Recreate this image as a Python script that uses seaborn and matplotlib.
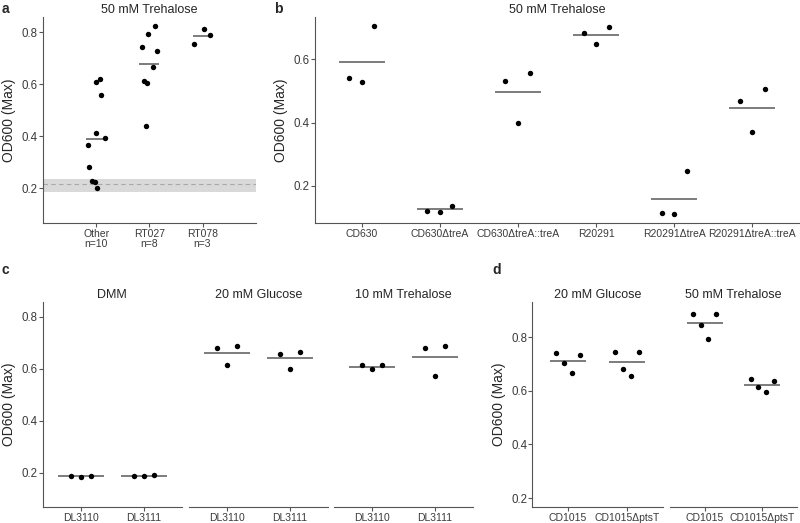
import numpy as np
import pandas as pd
import matplotlib
matplotlib.use('Agg')
from matplotlib import pyplot as plt
import seaborn as sns

# a: clinical isolates grown on 50 mM trehalose
a_groups = ['Other'] * 10 + ['RT027'] * 8 + ['RT078'] * 3
a_od = [0.282, 0.558, 0.223, 0.619, 0.393, 0.199, 0.610, 0.367, 0.228, 0.413,
        0.667, 0.823, 0.603, 0.742, 0.440, 0.727, 0.613, 0.791,
        0.787, 0.755, 0.813]
a_band = [0.186, 0.237]   # background range (grey band)
a_band_mid = 0.215

# b: treA mutants, 50 mM trehalose (3 replicates, left to right)
b_strains = ['CD630', 'CD630ΔtreA', 'CD630ΔtreA::treA',
             'R20291', 'R20291ΔtreA', 'R20291ΔtreA::treA']
b_od = [[0.540, 0.528, 0.707],
        [0.122, 0.119, 0.136],
        [0.532, 0.399, 0.556],
        [0.685, 0.648, 0.702],
        [0.116, 0.113, 0.246],
        [0.468, 0.370, 0.505]]

# c: DL3110 / DL3111 on three media
c_media = ['DMM', '20 mM Glucose', '10 mM Trehalose']
c_strains = ['DL3110', 'DL3111']
c_od = [[[0.187, 0.183, 0.188], [0.186, 0.185, 0.192]],
        [[0.678, 0.613, 0.686], [0.655, 0.599, 0.664]],
        [[0.613, 0.598, 0.614], [0.678, 0.573, 0.686]]]

# d: ptsT mutant
d_media = ['20 mM Glucose', '50 mM Trehalose']
d_strains = ['CD1015', 'CD1015ΔptsT']
d_od = [[[0.741, 0.703, 0.665, 0.732], [0.745, 0.680, 0.655, 0.743]],
        [[0.886, 0.844, 0.792, 0.886], [0.645, 0.614, 0.596, 0.637]]]

sns.set_style('ticks')
plt.rcParams.update({
    'font.family': ['Liberation Sans', 'DejaVu Sans'],
    'axes.edgecolor': '#555555',
    'axes.linewidth': 0.8,
    'xtick.color': '#555555', 'ytick.color': '#555555',
    'xtick.labelcolor': '#3a3a3a', 'ytick.labelcolor': '#3a3a3a',
    'xtick.major.size': 2.6, 'ytick.major.size': 2.6,
    'xtick.major.width': 0.8, 'ytick.major.width': 0.8,
    'xtick.major.pad': 1.5, 'ytick.major.pad': 1.0,
    'xtick.labelsize': 7.5, 'ytick.labelsize': 8.3,
    'axes.labelsize': 10, 'axes.titlesize': 9,
})

W, H = 800, 523
LINE_COL = '#666666'
DOT = 3.9
fig = plt.figure(figsize=(W / 100, H / 100), dpi=100)


def px_axes(x0, x1, y0, y1):
    return fig.add_axes([x0 / W, 1 - y1 / H, (x1 - x0) / W, (y1 - y0) / H])


def tidy(df_rows):
    return pd.DataFrame(df_rows, columns=['strain', 'rep', 'od'])


def draw(ax, df, order, n_slots, bar_pt):
    # replicates spread evenly via dodge, padded with empty hue slots
    reps = list(dict.fromkeys(df['rep']))
    pad = n_slots - len(reps)
    hue_order = ['padL%d' % i for i in range(pad // 2)] + reps + \
                ['padR%d' % i for i in range(pad - pad // 2)]
    sns.stripplot(data=df, x='strain', y='od', hue='rep', order=order,
                  hue_order=hue_order, dodge=True, jitter=False,
                  palette={h: 'black' for h in hue_order}, size=DOT,
                  linewidth=0, legend=False, ax=ax, zorder=3)
    sns.pointplot(data=df, x='strain', y='od', order=order, estimator='mean',
                  errorbar=None, color=LINE_COL, markers='_',
                  markersize=bar_pt, markeredgewidth=1.2, linestyle='none',
                  ax=ax, zorder=2)
    ax.set_xlabel('')
    ax.set_ylabel('')
    sns.despine(ax=ax)


# ---- panel a
ax = px_axes(43, 255.7, 17, 223)
dfa = pd.DataFrame({'group': a_groups, 'od': a_od})
a_order = list(dict.fromkeys(a_groups))
ax.axhspan(a_band[0], a_band[1], color='#d9d9d9', lw=0, zorder=0)
ax.axhline(a_band_mid, color='#a8a8a8', lw=0.8, dashes=(4, 3), zorder=1)
np.random.seed(7)
sns.stripplot(data=dfa, x='group', y='od', order=a_order, jitter=0.17,
              color='black', size=DOT, linewidth=0, ax=ax, zorder=3)
sns.pointplot(data=dfa, x='group', y='od', order=a_order, estimator='mean',
              errorbar=None, color=LINE_COL, markers='_', markersize=15,
              markeredgewidth=1.2, linestyle='none', ax=ax, zorder=2)
counts = dfa['group'].value_counts()
ax.set_xticks(range(len(a_order)))
ax.set_xticklabels(['%s\nn=%d' % (g, counts[g]) for g in a_order],
                   linespacing=1.0)
ax.set_xlim(-1, 3)
ax.set_ylim(0.066, 0.858)
ax.set_yticks([0.2, 0.4, 0.6, 0.8])
ax.set_xlabel('')
ax.set_ylabel('OD600 (Max)')
ax.yaxis.set_label_coords(-26.7 / 212.7, 0.5)
ax.set_title('50 mM Trehalose', pad=3)
sns.despine(ax=ax)

# ---- panel b
ax = px_axes(315, 799, 16.7, 223)
rows = [(s, 'r%d' % i, v) for s, vals in zip(b_strains, b_od)
        for i, v in enumerate(vals)]
draw(ax, tidy(rows), b_strains, 5, 33.6)
ax.set_xlim(-0.6, 5.6)
ax.set_ylim(0.083, 0.735)
ax.set_yticks([0.2, 0.4, 0.6])
ax.set_ylabel('OD600 (Max)')
ax.yaxis.set_label_coords(-26.7 / 484, 0.5)
ax.set_title('50 mM Trehalose', pad=3)


def facet_row(boxes, y0, y1, media, strains, od, ylim, n_slots, bar_pt):
    first = None
    for (x0, x1), medium, vals in zip(boxes, media, od):
        ax = px_axes(x0, x1, y0, y1)
        rows = [(s, 'r%d' % i, v) for s, reps in zip(strains, vals)
                for i, v in enumerate(reps)]
        draw(ax, tidy(rows), strains, n_slots, bar_pt)
        ax.set_xlim(-0.6, 1.6)
        ax.set_ylim(*ylim)
        ax.set_yticks([0.2, 0.4, 0.6, 0.8])
        ax.set_title(medium, pad=3)
        if first is None:
            first = ax
            ax.set_ylabel('OD600 (Max)')
            ax.yaxis.set_label_coords(-26.7 / (x1 - x0), 0.5)
        else:
            ax.spines['left'].set_visible(False)
            ax.tick_params(axis='y', left=False, labelleft=False)


# ---- panel c
facet_row([(43, 181.7), (189, 327.7), (334.3, 472.7)], 301.7, 507.3,
          c_media, c_strains, c_od, (0.066, 0.858), 5, 33)

# ---- panel d
facet_row([(532.3, 662.7), (670, 796.7)], 301.7, 507,
          d_media, d_strains, d_od, (0.167, 0.932), 6, 25.7)

for lab, x, y in [('a', 2, 9), ('b', 274, 9), ('c', 1, 270), ('d', 492, 270)]:
    fig.text(x / W, 1 - y / H, lab, ha='left', va='center',
             fontsize=10, fontweight='bold')

fig.savefig('out.png', dpi=100)
